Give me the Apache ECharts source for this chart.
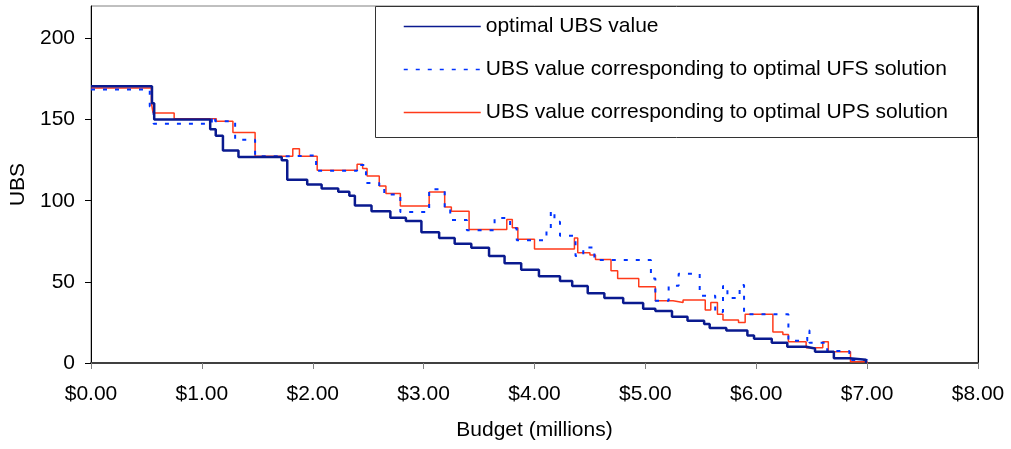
<!DOCTYPE html>
<html><head><meta charset="utf-8">
<script src="https://cdn.jsdelivr.net/npm/echarts@6/dist/echarts.min.js"></script>
<style>html,body{margin:0;padding:0;background:#fff}#c{width:1011px;height:449px}</style>
</head><body><div id="c"></div>
<script>
// ---- data (budget in millions, UBS value held from each budget to the next) ----
const seriesNames = [
  'optimal UBS value',
  'UBS value corresponding to optimal UFS solution',
  'UBS value corresponding to optimal UPS solution'
];
const optimalBudget = [0,0.55,0.57,1.075,1.125,1.19,1.33,1.72,1.77,1.95,2.08,2.23,2.33,2.38,2.53,2.70,2.84,2.98,3.14,3.28,3.43,3.59,3.73,3.88,4.04,4.23,4.34,4.48,4.63,4.80,4.98,5.09,5.24,5.38,5.53,5.58,5.73,5.92,5.98,6.14,6.28,6.45,6.53,6.70,6.84,6.99];
const optimalUBS    = [170.5,160,150,144,140,131,127,125,113,110,107.5,105.5,103,97,93.5,89.5,87.5,80.5,77,73.5,71,66,61.5,57.5,53.5,50.5,47.5,43,40,37,33.5,32,28.5,26,24,21.5,20,17,15,12.5,10,9,7,3,2,0];

const ufsBudget = [0,0.53,0.565,1.09,1.12,1.30,1.48,1.82,2.03,2.40,2.48,2.60,2.645,2.79,3.05,3.19,3.24,3.39,3.64,3.78,3.84,4.108,4.147,4.18,4.23,4.37,4.44,4.54,5.05,5.09,5.21,5.30,5.49,5.63,5.70,5.74,5.85,5.89,6.29,6.46,6.48,6.64,6.84,7.0];
const ufsUBS    = [168.5,158,147.5,152,149,137.6,127.4,128,118.4,122,111,109,103.8,93,107,96,88.2,81.8,89.4,83,75.7,82.6,93.7,87,78.4,66,71.2,63.4,52,38.3,47.6,55,41.5,31.5,47.5,40,48,30,13.7,20,12.5,7.4,1.8,0];

const upsBudget = [0,0.545,0.56,0.75,1.13,1.28,1.48,1.82,1.88,2.04,2.40,2.45,2.49,2.60,2.66,2.79,3.05,3.19,3.25,3.41,3.75,3.80,3.85,4.0,4.36,4.39,4.50,4.55,4.69,4.75,4.94,5.09,5.25,5.34,5.54,5.59,5.65,5.70,5.84,5.90,6.15,6.24,6.29,6.45,6.60,6.65,6.85,7.0];
const upsUBS    = [169.5,160,154,150.5,149,142,127.4,132,127.4,118.8,122.5,119.8,115.3,109,104.4,96.8,105.4,96.2,93.5,82.3,88.4,83.3,76.3,70.2,77.1,67.9,66.5,63.8,56.8,52.1,47,38.3,37.3,38.8,32.6,37.3,30,26.5,25,30,19.1,17.6,13.1,9.4,13.1,7,0.8,0];

const xTickValues = [0,1,2,3,4,5,6,7,8];
const yTickValues = [0,50,100,150,200];

function pairs(xs, ys) { return xs.map((x, i) => [x, ys[i]]); }

const FONT = 'Liberation Sans, Arial, sans-serif';
const FS = 21;
const chart = echarts.init(document.getElementById('c'), null, {renderer: 'canvas'});
chart.setOption({
  animation: false,
  backgroundColor: '#fff',
  textStyle: {fontFamily: FONT},
  grid: {left: 91, right: 33, top: 6, bottom: 86, show: true, borderColor: '#808080', borderWidth: 1},
  xAxis: {
    type: 'value', min: 0, max: 8, interval: 1,
    name: 'Budget (millions)', nameLocation: 'middle', nameGap: 57,
    nameTextStyle: {fontSize: FS, color: '#000', fontFamily: FONT},
    axisLine: {show: true, onZero: false, lineStyle: {color: '#404040', width: 2}},
    axisTick: {show: true, inside: false, length: 6, customValues: xTickValues, lineStyle: {color: '#808080', width: 1}},
    axisLabel: {fontSize: FS, color: '#000', margin: 21, fontFamily: FONT, customValues: xTickValues,
      formatter: v => '$' + v.toFixed(2)},
    splitLine: {show: false}
  },
  yAxis: [{
    type: 'value', min: 0, max: 220, interval: 50,
    name: 'UBS', nameLocation: 'middle', nameGap: 60, nameRotate: 90,
    nameTextStyle: {fontSize: FS, color: '#000', fontFamily: FONT},
    axisLine: {show: true, lineStyle: {color: '#000', width: 1}},
    axisTick: {show: true, length: 6, customValues: yTickValues, lineStyle: {color: '#000'}},
    axisLabel: {fontSize: FS, color: '#000', margin: 16, fontFamily: FONT, customValues: yTickValues},
    splitLine: {show: false}
  }, {
    type: 'value', min: 0, max: 220, position: 'right',
    axisLine: {show: true, lineStyle: {color: '#000', width: 1}},
    axisTick: {show: false}, axisLabel: {show: false}, splitLine: {show: false}
  }],
  legend: {
    orient: 'vertical', left: 403, top: 16, itemGap: 22, itemWidth: 77, itemHeight: 14,
    padding: 0, z: 20,
    data: seriesNames,
    textStyle: {fontSize: FS, color: '#000', fontFamily: FONT},
    itemStyle: {color: 'rgba(0,0,0,0)', borderWidth: 0, opacity: 0},
    lineStyle: {width: 1.5}
  },
  graphic: [{
    type: 'rect', z: 10,
    shape: {x: 375.5, y: 6.5, width: 602, height: 131},
    style: {fill: '#fff', stroke: '#333', lineWidth: 1}
  }],
  series: [
    {name: seriesNames[0], type: 'line', step: 'end', z: 4, symbol: 'none', showSymbol: false,
      data: pairs(optimalBudget, optimalUBS),
      itemStyle: {color: '#0a1a8f'},
      lineStyle: {color: '#0a1a8f', width: 2.5}},
    {name: seriesNames[1], type: 'line', step: 'end', z: 3, symbol: 'none', showSymbol: false,
      data: pairs(ufsBudget, ufsUBS),
      itemStyle: {color: '#0033ff'},
      lineStyle: {color: '#0033ff', width: 2, type: [4, 8]}},
    {name: seriesNames[2], type: 'line', step: 'end', z: 2, symbol: 'none', showSymbol: false,
      data: pairs(upsBudget, upsUBS),
      itemStyle: {color: '#ff3a1a'},
      lineStyle: {color: '#ff3a1a', width: 1.5}}
  ]
});
</script>
</body></html>
